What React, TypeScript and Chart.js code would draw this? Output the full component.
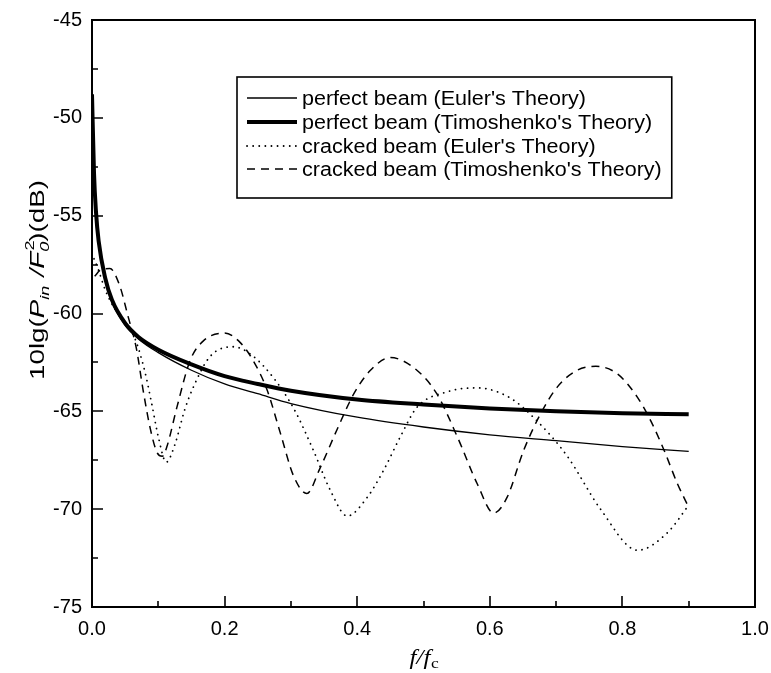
import React, { useEffect, useRef } from 'react';
import { Chart, registerables } from 'chart.js';

Chart.register(...registerables);

// ---- data ----
const perfectEulerX = [0, 0.003, 0.006, 0.01, 0.02, 0.03, 0.05, 0.07, 0.1, 0.15, 0.2, 0.25, 0.3, 0.4, 0.5, 0.6, 0.7, 0.8, 0.9];
const perfectEulerY = [-49.3, -53, -55, -56.5, -58.3, -59.4, -60.6, -61.3, -62.0, -62.9, -63.6, -64.1, -64.6, -65.3, -65.8, -66.2, -66.5, -66.8, -67.05];

const perfectTimoX = [0, 0.003, 0.006, 0.01, 0.02, 0.03, 0.05, 0.07, 0.1, 0.15, 0.2, 0.25, 0.3, 0.4, 0.5, 0.6, 0.7, 0.8, 0.9];
const perfectTimoY = [-48.8, -52.8, -54.8, -56.3, -58.2, -59.3, -60.5, -61.2, -61.85, -62.6, -63.2, -63.6, -63.95, -64.4, -64.65, -64.85, -65.0, -65.1, -65.15];

const crackedEulerX = [0.003, 0.01, 0.02, 0.035, 0.05, 0.065, 0.08, 0.09, 0.1, 0.112, 0.125, 0.14, 0.153, 0.178, 0.213, 0.24, 0.274, 0.305, 0.334, 0.359, 0.385, 0.415, 0.44, 0.465, 0.49, 0.536, 0.58, 0.63, 0.67, 0.717, 0.767, 0.823, 0.868, 0.9];
const crackedEulerY = [-57.2, -57.8, -58.8, -59.8, -60.5, -61.3, -63.0, -64.6, -66.3, -67.6, -66.7, -64.9, -63.75, -62.2, -61.7, -62.1, -63.3, -64.9, -67.0, -69.0, -70.35, -69.4, -68.0, -66.3, -64.8, -64.0, -63.8, -64.3, -65.45, -67.3, -70.0, -72.1, -71.2, -69.8];

const crackedTimoX = [0.004, 0.012, 0.027, 0.042, 0.054, 0.067, 0.077, 0.088, 0.098, 0.106, 0.113, 0.128, 0.148, 0.168, 0.2, 0.224, 0.243, 0.264, 0.284, 0.304, 0.324, 0.344, 0.37, 0.395, 0.42, 0.45, 0.49, 0.52, 0.551, 0.581, 0.606, 0.626, 0.651, 0.677, 0.702, 0.732, 0.76, 0.793, 0.823, 0.843, 0.863, 0.883, 0.9];
const crackedTimoY = [-58.1, -57.8, -57.7, -58.6, -60.1, -61.8, -63.9, -65.9, -67.1, -67.3, -66.8, -64.8, -62.4, -61.4, -61.0, -61.5, -62.4, -63.9, -66.1, -68.3, -69.2, -67.9, -65.9, -64.1, -62.9, -62.25, -62.9, -64.1, -66.3, -68.7, -70.2, -69.4, -67.0, -65.1, -63.75, -62.9, -62.7, -63.1, -64.3, -65.5, -67.0, -68.7, -69.9];

const seriesLabels = [
  "perfect beam (Euler's Theory)",
  "perfect beam (Timoshenko's Theory)",
  "cracked beam (Euler's Theory)",
  "cracked beam (Timoshenko's Theory)",
];

const xTickValues = [0, 0.2, 0.4, 0.6, 0.8, 1.0];
const xMinorTicks = [0.1, 0.3, 0.5, 0.7, 0.9];
const yTickValues = [-45, -50, -55, -60, -65, -70, -75];
const yMinorTicks = [-47.5, -52.5, -57.5, -62.5, -67.5, -72.5];

const SANS = "Arial, 'Liberation Sans', sans-serif";
const SERIF = "'Times New Roman', 'Liberation Serif', serif";

function pts(xs: number[], ys: number[]) {
  return xs.map((x, i) => ({ x, y: ys[i] }));
}

const decorPlugin = {
  id: 'decor',
  afterDraw(chart: any) {
    const { ctx, chartArea: a, scales } = chart;
    const xs = scales.x;
    const ys = scales.y;
    ctx.save();
    ctx.strokeStyle = '#000';
    ctx.fillStyle = '#000';
    ctx.setLineDash([]);
    // frame
    ctx.lineWidth = 2;
    ctx.strokeRect(a.left, a.top, a.right - a.left, a.bottom - a.top);
    // inward ticks
    ctx.lineWidth = 1.6;
    ctx.beginPath();
    for (const v of xTickValues) {
      const p = Math.round(xs.getPixelForValue(v));
      ctx.moveTo(p, a.bottom);
      ctx.lineTo(p, a.bottom - 11);
    }
    for (const v of xMinorTicks) {
      const p = Math.round(xs.getPixelForValue(v));
      ctx.moveTo(p, a.bottom);
      ctx.lineTo(p, a.bottom - 6);
    }
    for (const v of yTickValues) {
      const p = Math.round(ys.getPixelForValue(v));
      ctx.moveTo(a.left, p);
      ctx.lineTo(a.left + 11, p);
    }
    for (const v of yMinorTicks) {
      const p = Math.round(ys.getPixelForValue(v));
      ctx.moveTo(a.left, p);
      ctx.lineTo(a.left + 6, p);
    }
    ctx.stroke();

    // legend
    const ds = chart.data.datasets;
    const fontPx = 20;
    ctx.font = `${fontPx}px ${SANS}`;
    const targetRow1 = 284;
    const sx = targetRow1 / ctx.measureText(ds[0].label).width;
    let maxW = 0;
    for (const d of ds) maxW = Math.max(maxW, ctx.measureText(d.label).width * sx);
    const bx = a.left + 145;
    const by = a.top + 57;
    const textX = bx + 65;
    const bw = textX - bx + maxW + 10;
    const bh = 121;
    ctx.fillStyle = '#fff';
    ctx.fillRect(bx, by, bw, bh);
    ctx.lineWidth = 1.6;
    ctx.strokeStyle = '#000';
    ctx.strokeRect(bx, by, bw, bh);
    const rowY = [21, 45, 69, 92];
    ds.forEach((d: any, i: number) => {
      const y = by + rowY[i];
      ctx.save();
      ctx.lineWidth = d.borderWidth;
      ctx.setLineDash(d.borderDash || []);
      ctx.lineCap = d.borderCapStyle || 'butt';
      ctx.beginPath();
      ctx.moveTo(bx + 10, y);
      ctx.lineTo(bx + 60, y);
      ctx.stroke();
      ctx.restore();
      ctx.save();
      ctx.translate(textX, y);
      ctx.scale(sx, 1);
      ctx.fillStyle = '#000';
      ctx.font = `${fontPx}px ${SANS}`;
      ctx.textBaseline = 'middle';
      ctx.textAlign = 'left';
      ctx.fillText(d.label, 0, 1);
      ctx.restore();
    });

    // y axis title
    type Piece = { t: string; f: string; dy: number; stack?: { t: string; f: string; dy: number } };
    const pieces: Piece[] = [
      { t: '10lg(', f: `20px ${SANS}`, dy: 0 },
      { t: 'P', f: `italic 20px ${SANS}`, dy: 0 },
      { t: 'in', f: `italic 13px ${SANS}`, dy: 5 },
      { t: ' /F', f: `italic 20px ${SANS}`, dy: 0 },
      { t: '0', f: `italic 13px ${SANS}`, dy: 5, stack: { t: '2', f: `13px ${SANS}`, dy: -10 } },
      { t: ')(dB)', f: `20px ${SANS}`, dy: 0 },
    ];
    let W = 0;
    const widths: number[] = [];
    for (const p of pieces) {
      ctx.font = p.f;
      let w = ctx.measureText(p.t).width;
      if (p.stack) {
        ctx.font = p.stack.f;
        w = Math.max(w, ctx.measureText(p.stack.t).width);
      }
      widths.push(w + (p.t === 'in' ? 1 : 0));
      W += widths[widths.length - 1];
    }
    const tsx = 200 / W;
    ctx.save();
    ctx.translate(44, a.top + 260);
    ctx.rotate(-Math.PI / 2);
    ctx.scale(tsx, 1);
    ctx.fillStyle = '#000';
    ctx.textBaseline = 'alphabetic';
    ctx.textAlign = 'left';
    let cx = -W / 2;
    pieces.forEach((p, i) => {
      ctx.font = p.f;
      ctx.fillText(p.t, cx, p.dy);
      if (p.stack) {
        ctx.font = p.stack.f;
        ctx.fillText(p.stack.t, cx + 1, p.stack.dy);
      }
      cx += widths[i];
    });
    ctx.restore();

    // x axis title
    ctx.save();
    const xc = xs.getPixelForValue(0.5);
    ctx.translate(xc - 14, a.bottom + 57);
    ctx.scale(1.25, 1);
    ctx.fillStyle = '#000';
    ctx.textBaseline = 'alphabetic';
    ctx.textAlign = 'left';
    ctx.font = `italic 20px ${SERIF}`;
    const main = 'f/f';
    ctx.fillText(main, 0, 0);
    const mw = ctx.measureText(main).width;
    ctx.font = `14px ${SERIF}`;
    ctx.fillText('c', mw + 0.5, 4);
    ctx.restore();

    ctx.restore();
  },
};

export default function App() {
  const ref = useRef<HTMLCanvasElement | null>(null);
  useEffect(() => {
    if (!ref.current) return;
    const chart = new Chart(ref.current, {
      type: 'line',
      data: {
        datasets: [
          {
            label: seriesLabels[0],
            data: pts(perfectEulerX, perfectEulerY),
            borderColor: '#000',
            borderWidth: 1.3,
            pointRadius: 0,
            cubicInterpolationMode: 'monotone',
          },
          {
            label: seriesLabels[1],
            data: pts(perfectTimoX, perfectTimoY),
            borderColor: '#000',
            borderWidth: 4,
            pointRadius: 0,
            cubicInterpolationMode: 'monotone',
          },
          {
            label: seriesLabels[2],
            data: pts(crackedEulerX, crackedEulerY),
            borderColor: '#000',
            borderWidth: 1.8,
            borderDash: [0.1, 6],
            borderCapStyle: 'round',
            pointRadius: 0,
            cubicInterpolationMode: 'monotone',
          },
          {
            label: seriesLabels[3],
            data: pts(crackedTimoX, crackedTimoY),
            borderColor: '#000',
            borderWidth: 1.5,
            borderDash: [8, 6],
            pointRadius: 0,
            cubicInterpolationMode: 'monotone',
          },
        ] as any,
      },
      options: {
        animation: false,
        responsive: false,
        devicePixelRatio: 1,
        layout: { padding: { top: 20, right: 16, left: 0, bottom: 0 } },
        plugins: { legend: { display: false }, tooltip: { enabled: false } },
        scales: {
          x: {
            type: 'linear',
            min: 0,
            max: 1,
            grid: { display: false, drawTicks: false },
            border: { display: false },
            afterBuildTicks: (s: any) => {
              s.ticks = xTickValues.map((v) => ({ value: v }));
            },
            afterFit: (s: any) => {
              s.height = 66;
              s.paddingRight = 0;
              s.paddingLeft = 0;
            },
            ticks: {
              padding: 10,
              color: '#000',
              maxRotation: 0,
              autoSkip: false,
              font: { family: SANS, size: 20 },
              callback: (v: any) => Number(v).toFixed(1),
            },
          },
          y: {
            type: 'linear',
            min: -75,
            max: -45,
            grid: { display: false, drawTicks: false },
            border: { display: false },
            afterBuildTicks: (s: any) => {
              s.ticks = yTickValues.map((v) => ({ value: v }));
            },
            afterFit: (s: any) => {
              s.width = 92;
              s.paddingTop = 0;
              s.paddingBottom = 0;
            },
            ticks: {
              padding: 10,
              color: '#000',
              autoSkip: false,
              font: { family: SANS, size: 20 },
              callback: (v: any) => String(v),
            },
          },
        },
      },
      plugins: [decorPlugin],
    });
    return () => chart.destroy();
  }, []);
  return (
    <div style={{ position: 'fixed', left: 0, top: 0, width: 771, height: 673, background: '#fff' }}>
      <canvas ref={ref} width={771} height={673} style={{ display: 'block', width: 771, height: 673 }} />
    </div>
  );
}
